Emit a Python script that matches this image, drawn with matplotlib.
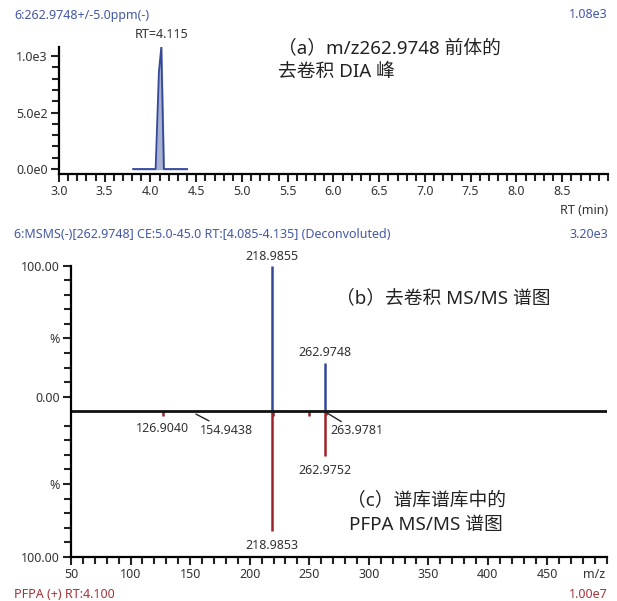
import numpy as np
import matplotlib
matplotlib.use('Agg')
import matplotlib.pyplot as plt
from matplotlib.ticker import MultipleLocator, FixedLocator

plt.rcParams['font.family'] = ['Noto Sans', 'Noto Sans CJK SC', 'DejaVu Sans']

# --- datos del cromatograma (a) ---
rt = [3.81, 4.056, 4.092, 4.118, 4.146, 4.40]
intensidad = [0, 0, 860, 1080, 0, 0]

# --- espectro experimental (b) ---
mz_exp = [218.9855, 262.9748]
int_exp = [100, 33]

# --- espectro de biblioteca (c) ---
mz_lib = [126.9040, 154.9438, 218.9853, 219.99, 250.1, 262.9752, 263.9781]
int_lib = [3, 0.3, 82, 3, 3, 31, 2.5]

azul = '#34499a'
relleno = '#a9b1d1'
rojo = '#9c2226'
txt_azul = '#4458a5'
txt_rojo = '#a8323a'
gris = '#333333'
fs = 9
fs_big = 13.5

fig = plt.figure(figsize=(6.17, 6.01), dpi=100)

# ---------------- panel superior ----------------
ax1 = fig.add_axes([0.0956, 0.7105, 0.8898, 0.2113])
ax1.plot(rt, intensidad, color=azul, lw=1.3)
ax1.fill_between(rt, intensidad, color=relleno)
ax1.set_xlim(3.0, 9.0)
ax1.set_ylim(-44, 1080)
ax1.xaxis.set_major_locator(FixedLocator(np.arange(3.0, 8.6, 0.5)))
ax1.xaxis.set_minor_locator(MultipleLocator(0.1))
ax1.set_xticklabels([f'{v:.1f}' for v in np.arange(3.0, 8.6, 0.5)])
ax1.yaxis.set_major_locator(FixedLocator([0, 500, 1000]))
ax1.yaxis.set_minor_locator(MultipleLocator(100))
ax1.set_yticklabels(['0.0e0', '5.0e2', '1.0e3'])
for s in ['top', 'right']:
    ax1.spines[s].set_visible(False)
for s in ['left', 'bottom']:
    ax1.spines[s].set_linewidth(1.6)
ax1.tick_params(which='both', width=1.5, labelsize=fs, color='#222222', labelcolor=gris, pad=2)
ax1.tick_params(which='major', length=6)
ax1.tick_params(which='minor', length=5)
ax1.text(4.118, 1130, 'RT=4.115', ha='center', va='bottom', fontsize=fs, color=gris)

fig.text(14/617, 1-15/601, '6:262.9748+/-5.0ppm(-)', ha='left', va='center', fontsize=fs, color=txt_azul)
fig.text(608/617, 1-15/601, '1.08e3', ha='right', va='center', fontsize=fs, color=txt_azul)
fig.text(608/617, 1-210/601, 'RT (min)', ha='right', va='center', fontsize=fs, color=gris)
fig.text(278/617, 1-60/601, '（a）m/z262.9748 前体的\n去卷积 DIA 峰', ha='left', va='center',
         fontsize=fs_big, color='#222222', linespacing=1.45)

# ---------------- panel inferior (espejo) ----------------
ax2 = fig.add_axes([0.1151, 0.0737, 0.8687, 0.4842])
ax2.vlines(mz_exp, 0, int_exp, color=azul, lw=1.8)
ax2.vlines(mz_lib, 0, [-v for v in int_lib], color=rojo, lw=1.8)
ax2.axhline(0, color='#111111', lw=2)
ax2.set_xlim(50, 500)
ax2.set_ylim(-100, 100)
ax2.xaxis.set_major_locator(FixedLocator(np.arange(50, 451, 50)))
ax2.xaxis.set_minor_locator(MultipleLocator(10))
ax2.yaxis.set_major_locator(FixedLocator([100, 50, 10, -50, -100]))
ax2.set_yticklabels(['100.00', '%', '0.00', '%', '100.00'])
ax2.yaxis.set_minor_locator(FixedLocator([v for v in range(-90, 100, 10) if v != 0]))
for s in ['top', 'right']:
    ax2.spines[s].set_visible(False)
for s in ['left', 'bottom']:
    ax2.spines[s].set_linewidth(1.6)
ax2.tick_params(which='both', width=1.5, labelsize=fs, color='#222222', labelcolor=gris, pad=2)
ax2.tick_params(which='major', length=6)
ax2.tick_params(which='minor', length=5)

# etiquetas de picos
ax2.text(mz_exp[0], 102, '218.9855', ha='center', va='bottom', fontsize=fs, color=gris)
ax2.text(mz_exp[1], 36, '262.9748', ha='center', va='bottom', fontsize=fs, color=gris)
ax2.text(mz_lib[0], -12, '126.9040', ha='center', va='center', fontsize=fs, color=gris)
ax2.annotate('154.9438', xy=(mz_lib[1], -2), xytext=(mz_lib[1] + 3.5, -13), ha='left', va='center',
             fontsize=fs, color=gris, arrowprops=dict(arrowstyle='-', color='#222222', lw=1, shrinkA=0, shrinkB=0))
ax2.annotate('263.9781', xy=(mz_lib[6] + 0.5, -1), xytext=(mz_lib[6] + 3.5, -13.5), ha='left', va='center',
             fontsize=fs, color=gris, arrowprops=dict(arrowstyle='-', color='#222222', lw=1, shrinkA=0, shrinkB=0))
ax2.text(mz_lib[5], -41, '262.9752', ha='center', va='center', fontsize=fs, color=gris)
ax2.text(mz_lib[2], -92, '218.9853', ha='center', va='center', fontsize=fs, color=gris)

fig.text(14/617, 1-234/601, '6:MSMS(-)[262.9748] CE:5.0-45.0 RT:[4.085-4.135] (Deconvoluted)',
         ha='left', va='center', fontsize=fs, color=txt_azul)
fig.text(608/617, 1-234/601, '3.20e3', ha='right', va='center', fontsize=fs, color=txt_azul)
fig.text(594/617, 1-575/601, 'm/z', ha='center', va='center', fontsize=fs, color=gris)
fig.text(14/617, 1-594/601, 'PFPA (+) RT:4.100', ha='left', va='center', fontsize=fs, color=txt_rojo)
fig.text(608/617, 1-594/601, '1.00e7', ha='right', va='center', fontsize=fs, color=txt_rojo)

fig.text(443/617, 1-298/601, '（b）去卷积 MS/MS 谱图', ha='center', va='center', fontsize=fs_big, color='#222222')
fig.text(426/617, 1-513/601, '（c）谱库谱库中的\nPFPA MS/MS 谱图', ha='center', va='center',
         fontsize=fs_big, color='#222222', linespacing=1.45)

fig.savefig('out.png', dpi=100)
